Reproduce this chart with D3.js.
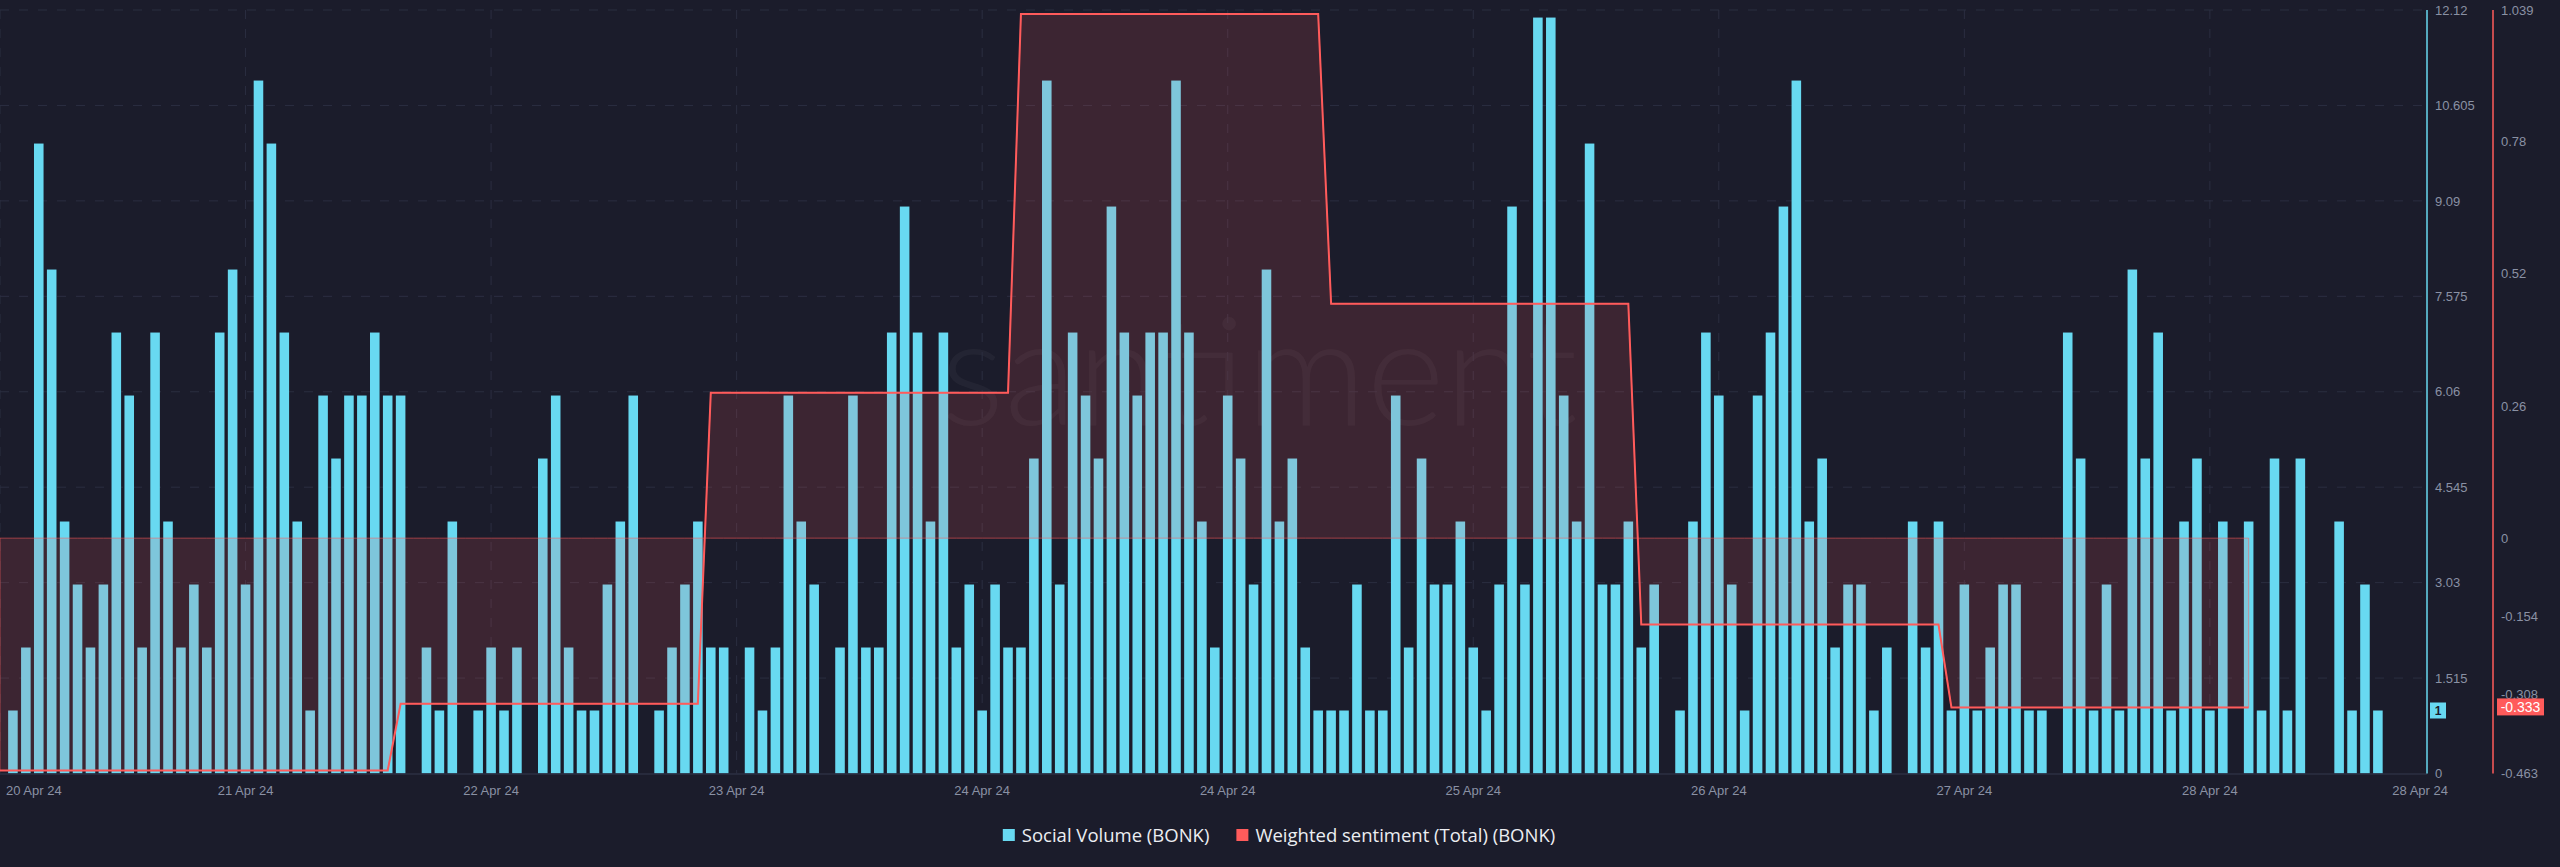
<!DOCTYPE html>
<html>
<head>
<meta charset="utf-8">
<script src="https://cdn.jsdelivr.net/npm/d3@7"></script>
<style>
  body { margin:0; background:#1b1c2b; }
  svg { display:block; }
  text { font-family:"Liberation Sans", Arial, sans-serif; }
</style>
</head>
<body>
<div id="chart"></div>
<script>
// hourly social volume (BONK), first bar = 20 Apr 24
var socialVolume = [
   1,2,10,8,4,3,2,3,7,6, 2,7,4,2,3,2,7,8,3,11, 10,7,4,1,6,5,6,6,7,6, 6,0,2,1,4,0,1,2,
   1,2,0,5,6,2,1,1,3,4, 6,0,1,2,3,4,2,2,0,2, 1,2,6,4,3,0,2,6,2,2, 7,9,7,4,7,2,3,
   1,3,2,2,5,11,3,7,6,5, 9,7,6,7,7,11,7,4,2,6, 5,3,8,4,5,2,1,1,1,3, 1,1,6,2,5,3,3,
   4,2,1,3,9,3,12,12,6,4, 10,3,3,4,2,3,0,1,4,7, 6,3,1,6,7,9,11,4,5,2, 3,3,1,2,0,4,2,4,
   1,3,1,2,3,3,1,1,0,7, 5,1,3,1,8,5,7,1,4,5, 1,4,0,4,1,5,1,5,0,0, 4,1,3,1
];

// weighted sentiment (daily value, plotted on the hourly axis)
var sentimentLevels = [-0.457,-0.326,0.286,1.031,0.461,-0.170,-0.333];
var sentimentSwitchHours = [31,55,79,103,127,151];
var sentimentLastHour = 174;

// axes
var xTickLabels = ["20 Apr 24","21 Apr 24","22 Apr 24","23 Apr 24","24 Apr 24",
                   "24 Apr 24","25 Apr 24","26 Apr 24","27 Apr 24","28 Apr 24"];
var xEndLabel = "28 Apr 24";
var xTickStepHours = 19;
var xDomainHours = 187.8;
var volumeTicks = [0,1.515,3.03,4.545,6.06,7.575,9.09,10.605,12.12];
var sentimentTicks = [-0.463,-0.308,-0.154,0,0.26,0.52,0.78,1.039];
var legendNames = ["Social Volume (BONK)","Weighted sentiment (Total) (BONK)"];

var W = 2560, H = 867;
var plot = {left:0, right:2427, top:10, bottom:773.5};
var cyan = "#68d9f1", red = "#ff5b5b", bg = "#1b1c2b", grid = "#2b2e41", axisText = "#8a91a4";

var svg = d3.select("#chart").append("svg").attr("width",W).attr("height",H);
svg.append("rect").attr("width",W).attr("height",H).attr("fill",bg);

var x = d3.scaleLinear().domain([0,xDomainHours]).range([plot.left,plot.right]);
var yVol = d3.scaleLinear().domain([0,12.12]).range([plot.bottom,plot.top]);
var ySent = d3.scaleLinear().domain([-0.463,1.039]).range([plot.bottom,plot.top]);

// watermark
svg.append("text")
   .attr("x",1259).attr("y",425)
   .attr("text-anchor","middle")
   .style("font-family","Lato, 'Open Sans', sans-serif")
   .style("font-weight",300)
   .style("font-size","150px")
   .attr("fill","#ffffff").attr("fill-opacity",0.04)
   .text("santiment");

// grid lines
var gGrid = svg.append("g").attr("class","grid-lines");
gGrid.selectAll(".hgrid").data(volumeTicks.slice(1)).enter()
   .append("line").attr("class","hgrid")
   .attr("x1",plot.left).attr("x2",plot.right)
   .attr("y1",function(d){return yVol(d)}).attr("y2",function(d){return yVol(d)})
   .attr("stroke",grid).attr("stroke-dasharray","9,10");
gGrid.selectAll(".vgrid").data(xTickLabels).enter()
   .append("line").attr("class","vgrid")
   .attr("x1",function(d,i){return x(i*xTickStepHours)})
   .attr("x2",function(d,i){return x(i*xTickStepHours)})
   .attr("y1",plot.top).attr("y2",plot.bottom)
   .attr("stroke",grid).attr("stroke-dasharray","9,10");

// bars
var barW = (x(1)-x(0))*0.74;
svg.append("g").selectAll(".bar").data(socialVolume).enter()
   .append("rect").attr("class","bar")
   .attr("x",function(d,i){return x(i+1)-barW/2})
   .attr("width",barW)
   .attr("y",function(d){return yVol(d)})
   .attr("height",function(d){return yVol(0)-yVol(d)})
   .attr("fill",cyan);

// sentiment series on hourly points
var sentiment = d3.range(0,sentimentLastHour+1).map(function(h){
   var k = 0;
   sentimentSwitchHours.forEach(function(s){ if (h>=s) k++; });
   return {h:h, v:sentimentLevels[k]};
});

var area = d3.area()
   .x(function(d){return x(d.h)})
   .y0(ySent(0))
   .y1(function(d){return ySent(d.v)});
svg.append("path").datum(sentiment)
   .attr("d",area)
   .attr("fill",red).attr("fill-opacity",0.15)
   .attr("stroke",red).attr("stroke-opacity",0.55).attr("stroke-width",1);

var line = d3.line()
   .x(function(d){return x(d.h)})
   .y(function(d){return ySent(d.v)});
svg.append("path").datum(sentiment)
   .attr("d",line)
   .attr("fill","none").attr("stroke",red).attr("stroke-width",2);

// bottom axis line
svg.append("line")
   .attr("x1",plot.left).attr("x2",plot.right)
   .attr("y1",plot.bottom+0.5).attr("y2",plot.bottom+0.5)
   .attr("stroke","#2c2f43").attr("stroke-width",1.5);

// x labels
svg.append("g").selectAll(".xlabel").data(xTickLabels).enter()
   .append("text").attr("class","xlabel")
   .attr("x",function(d,i){return i==0 ? x(0)+6 : x(i*xTickStepHours)})
   .attr("y",795)
   .attr("text-anchor",function(d,i){return i==0 ? "start" : "middle"})
   .attr("fill",axisText).style("font-size","13px")
   .text(function(d){return d});
svg.append("text")
   .attr("x",x(xDomainHours)+21).attr("y",795)
   .attr("text-anchor","end")
   .attr("fill",axisText).style("font-size","13px")
   .text(xEndLabel);

// right axes
svg.append("line")
   .attr("x1",plot.right).attr("x2",plot.right)
   .attr("y1",plot.top).attr("y2",plot.bottom)
   .attr("stroke",cyan).attr("stroke-width",1.5);
svg.append("g").attr("transform","translate("+(plot.right+8)+",0)")
   .call(d3.axisRight(yVol).tickValues(volumeTicks).tickSize(0).tickPadding(0)
         .tickFormat(function(d){return String(+d.toFixed(3))}))
   .call(function(g){
      g.select(".domain").remove();
      g.selectAll("text").attr("fill",axisText).style("font-size","13px")
         .style("font-family","'Liberation Sans', Arial, sans-serif");
   });

var redAxisX = 2493;
svg.append("line")
   .attr("x1",redAxisX).attr("x2",redAxisX)
   .attr("y1",plot.top).attr("y2",plot.bottom)
   .attr("stroke",red).attr("stroke-width",1.5);
svg.append("g").attr("transform","translate("+(redAxisX+8)+",0)")
   .call(d3.axisRight(ySent).tickValues(sentimentTicks).tickSize(0).tickPadding(0)
         .tickFormat(function(d){return String(d)}))
   .call(function(g){
      g.select(".domain").remove();
      g.selectAll("text").attr("fill",axisText).style("font-size","13px")
         .style("font-family","'Liberation Sans', Arial, sans-serif");
   });

// last value badges
var lastVol = socialVolume[socialVolume.length-1];
svg.append("rect")
   .attr("x",plot.right+3).attr("y",yVol(lastVol)-8)
   .attr("width",16).attr("height",16).attr("fill",cyan);
svg.append("text")
   .attr("x",plot.right+11).attr("y",yVol(lastVol)+4.5)
   .attr("text-anchor","middle").attr("fill",bg)
   .style("font-size","12px").style("font-weight","bold")
   .text(lastVol);

var lastSent = sentimentLevels[sentimentLevels.length-1];
svg.append("rect")
   .attr("x",redAxisX+4).attr("y",ySent(lastSent)-9)
   .attr("width",47).attr("height",17).attr("fill",red);
svg.append("text")
   .attr("x",redAxisX+27.5).attr("y",ySent(lastSent)+4.5)
   .attr("text-anchor","middle").attr("fill","#ffffff")
   .style("font-size","14px")
   .text(lastSent.toFixed(3));

// legend
var legend = svg.append("g").attr("class","legend");
var legendColors = [cyan, red];
var lx = 0;
legendNames.forEach(function(name,i){
   var item = legend.append("g").attr("transform","translate("+lx+",0)");
   item.append("rect").attr("x",0).attr("y",-6).attr("width",12).attr("height",12)
      .attr("fill",legendColors[i]);
   var t = item.append("text").attr("x",19).attr("y",6.5)
      .attr("fill","#eceef2")
      .style("font-family","'Open Sans', sans-serif")
      .style("font-size","18.5px")
      .text(name);
   lx += 19 + t.node().getComputedTextLength() + 27;
});
lx -= 27;
legend.attr("transform","translate("+(1279-lx/2)+",835)");
</script>
</body>
</html>
